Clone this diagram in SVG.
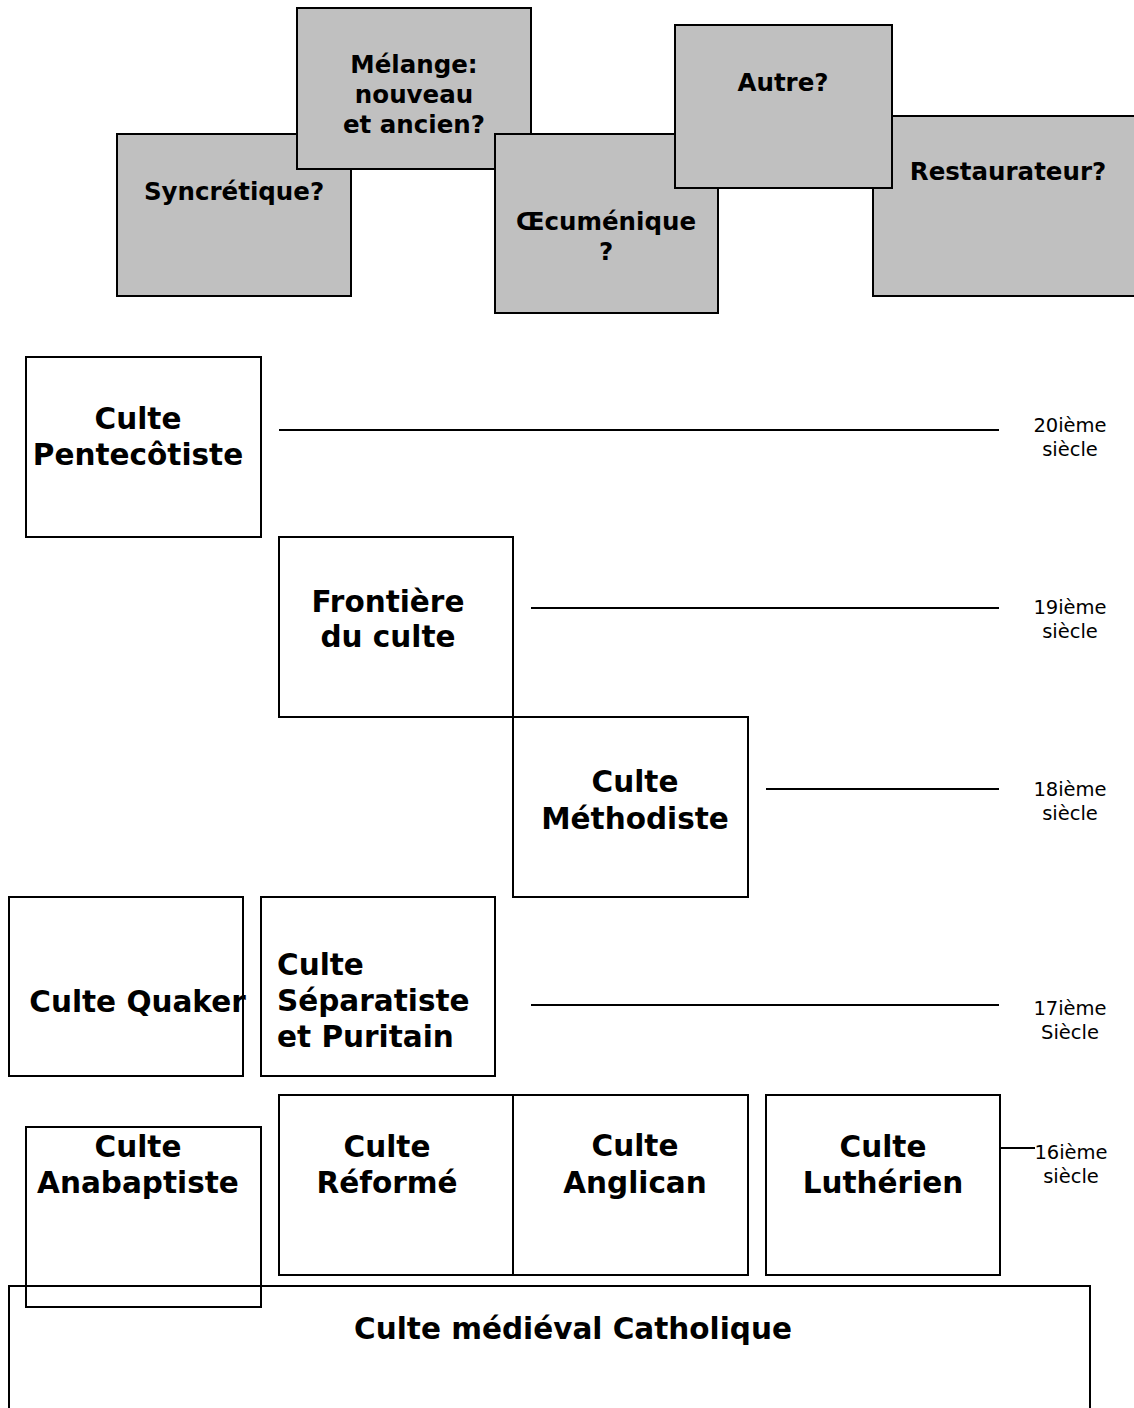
<svg xmlns="http://www.w3.org/2000/svg" width="1134" height="1408" viewBox="0 0 1134 1408">
<style>
.g{fill:#c0c0c0;stroke:#000;stroke-width:2}
.w{fill:none;stroke:#000;stroke-width:2}
.tt{font-family:"DejaVu Sans",Verdana,sans-serif;font-weight:bold;font-size:24.5px;fill:#000;text-anchor:middle}
.tm{font-family:"DejaVu Sans",Verdana,sans-serif;font-weight:bold;font-size:29.5px;fill:#000;text-anchor:middle}
.ty{font-family:"DejaVu Sans",Verdana,sans-serif;font-size:19.5px;fill:#000;text-anchor:middle}
.ln{stroke:#000;stroke-width:2;fill:none}
</style>
<rect width="1134" height="1408" fill="#fff"/>
<g id="syncretique"><rect class="g" x="117" y="134" width="234" height="162"/><text class="tt" x="234" y="200">Syncrétique?</text></g>
<g id="melange"><rect class="g" x="297" y="8" width="234" height="161"/><text class="tt" x="414" y="73">Mélange:</text><text class="tt" x="414" y="103">nouveau</text><text class="tt" x="414" y="133">et ancien?</text></g>
<g id="oecumenique"><rect class="g" x="495" y="134" width="223" height="179"/><text class="tt" x="606" y="230">Œcuménique</text><text class="tt" x="606" y="260">?</text></g>
<g id="restaurateur"><rect class="g" x="873" y="116" width="263" height="180"/><text class="tt" x="1008" y="180">Restaurateur?</text></g>
<g id="autre"><rect class="g" x="675" y="25" width="217" height="163"/><text class="tt" x="783" y="91">Autre?</text></g>

<g id="connectors">
<line class="ln" x1="279" y1="430" x2="999" y2="430"/>
<line class="ln" x1="531" y1="608" x2="999" y2="608"/>
<line class="ln" x1="766" y1="789" x2="999" y2="789"/>
<line class="ln" x1="531" y1="1005" x2="999" y2="1005"/>
<line class="ln" x1="1000" y1="1148" x2="1035" y2="1148"/>
</g>

<g id="label20"><text class="ty" x="1070" y="432">20ième</text><text class="ty" x="1070" y="456">siècle</text></g>
<g id="label19"><text class="ty" x="1070" y="614">19ième</text><text class="ty" x="1070" y="638">siècle</text></g>
<g id="label18"><text class="ty" x="1070" y="796">18ième</text><text class="ty" x="1070" y="820">siècle</text></g>
<g id="label17"><text class="ty" x="1070" y="1015">17ième</text><text class="ty" x="1070" y="1039">Siècle</text></g>
<g id="label16"><text class="ty" x="1071" y="1159">16ième</text><text class="ty" x="1071" y="1183">siècle</text></g>

<g id="pentecotiste"><rect class="w" x="26" y="357" width="235" height="180"/><text class="tm" x="138" y="429">Culte</text><text class="tm" x="138" y="465">Pentecôtiste</text></g>
<g id="frontiere"><rect class="w" x="279" y="537" width="234" height="180"/><text class="tm" x="388" y="612">Frontière</text><text class="tm" x="388" y="647">du culte</text></g>
<g id="methodiste"><rect class="w" x="513" y="717" width="235" height="180"/><text class="tm" x="635" y="792">Culte</text><text class="tm" x="635" y="829">Méthodiste</text></g>
<g id="quaker"><rect class="w" x="9" y="897" width="234" height="179"/><text class="tm" x="137.5" y="1012">Culte Quaker</text></g>
<g id="separatiste"><rect class="w" x="261" y="897" width="234" height="179"/><text class="tm" style="text-anchor:start" x="277" y="975">Culte</text><text class="tm" style="text-anchor:start" x="277" y="1011">Séparatiste</text><text class="tm" style="text-anchor:start" x="277" y="1047">et Puritain</text></g>
<g id="anabaptiste"><rect class="w" x="26" y="1127" width="235" height="180"/><text class="tm" x="138" y="1157">Culte</text><text class="tm" x="138" y="1193">Anabaptiste</text></g>
<g id="reforme"><rect class="w" x="279" y="1095" width="234" height="180"/><text class="tm" x="387" y="1157">Culte</text><text class="tm" x="387" y="1193">Réformé</text></g>
<g id="anglican"><rect class="w" x="513" y="1095" width="235" height="180"/><text class="tm" x="635" y="1156">Culte</text><text class="tm" x="635" y="1193">Anglican</text></g>
<g id="lutherien"><rect class="w" x="766" y="1095" width="234" height="180"/><text class="tm" x="883" y="1157">Culte</text><text class="tm" x="883" y="1193">Luthérien</text></g>
<g id="catholique"><rect class="w" x="9" y="1286" width="1081" height="140"/><text class="tm" x="573" y="1339">Culte médiéval Catholique</text></g>
</svg>
